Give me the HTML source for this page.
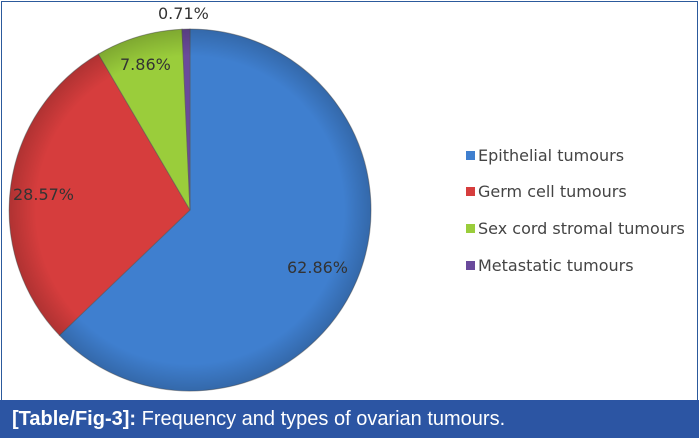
<!DOCTYPE html>
<html><head><style>
body{margin:0;width:699px;height:438px;background:#fff;overflow:hidden;font-family:"Liberation Sans",sans-serif}
.frame{position:absolute;left:1px;top:1px;width:695px;height:398px;border:1px solid #2c5a9c}
.cap{position:absolute;left:0;top:400px;width:699px;height:38px;background:#2c55a3;color:#fff;font-size:20px;line-height:38px;padding-left:12px;box-sizing:border-box}
.leg{position:absolute;left:466px;color:#444;font-family:"DejaVu Sans","Liberation Sans",sans-serif;font-size:16px}
.leg span{display:inline-block;width:9px;height:9px;margin-right:3px;vertical-align:1px}
</style></head><body>
<div class="frame"></div>
<svg width="699" height="438" style="position:absolute;left:0;top:0">
<defs>
<radialGradient id="g" cx="50%" cy="50%" r="50%"><stop offset="0.85" stop-color="#000" stop-opacity="0"/><stop offset="1" stop-color="#000" stop-opacity="0.18"/></radialGradient>
</defs>
<g stroke="#555" stroke-width="1" stroke-opacity="0.5">
<path d="M190,210 L190,29 A181,181 0 1 1 59.4,335.3 Z" fill="#3f7fcf"/>
<path d="M190,210 L59.4,335.3 A181,181 0 0 1 98.4,54.1 Z" fill="#d63d3d"/>
<path d="M190,210 L98.4,54.1 A181,181 0 0 1 182.0,29.2 Z" fill="#9acd3b"/>
<path d="M190,210 L182.0,29.2 A181,181 0 0 1 190,29 Z" fill="#6a4a9c"/>
</g>
<circle cx="190" cy="210" r="181" fill="url(#g)"/>
<g font-family="DejaVu Sans, Liberation Sans, sans-serif" font-size="16" fill="#333">
<text x="158" y="19">0.71%</text>
<text x="120" y="70">7.86%</text>
<text x="13" y="200">28.57%</text>
<text x="287" y="273">62.86%</text>
</g>
</svg>
<div class="leg" style="top:146px"><span style="background:#3f7fcf"></span>Epithelial tumours</div>
<div class="leg" style="top:182px"><span style="background:#d63d3d"></span>Germ cell tumours</div>
<div class="leg" style="top:219px"><span style="background:#9acd3b"></span>Sex cord stromal tumours</div>
<div class="leg" style="top:256px"><span style="background:#6a4a9c"></span>Metastatic tumours</div>
<div class="cap"><b>[Table/Fig-3]:</b> Frequency and types of ovarian tumours.</div>
</body></html>
